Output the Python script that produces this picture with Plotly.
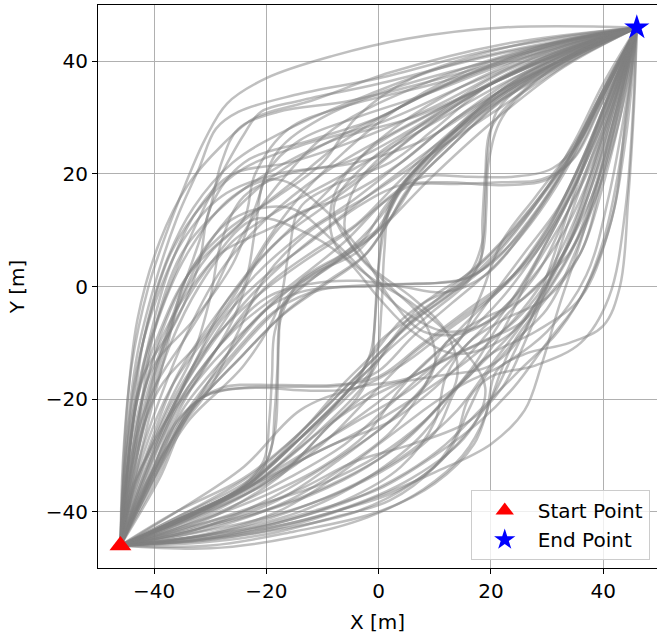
import plotly.graph_objects as go

START = (-46, -46)
END = (46, 46)
TICKS = [-40, -20, 0, 20, 40]

UPPER_PATHS = [
    [(-46,-46),(-45.5,-30),(-44,-14),(-41,0),(-38,9),(-34.5,18),(-31,26),(-27,32.5),(-20,37),(-8,41),(5,44),(22,46),(46,46)],
    [(-46,-46),(-45,-28),(-43,-12),(-40,0),(-36,12),(-32,21),(-29,28),(-25,31),(-15,34),(0,37),(20,42),(46,46)],
    [(-46,-46),(-44.5,-30),(-42,-14),(-38,-2),(-33,10),(-28,20),(-24,27),(-21,31),(-14,33),(0,36),(20,41),(46,46)],
    [(-46,-46),(-44,-32),(-41,-18),(-37,-6),(-33,5),(-30,14),(-28,22),(-25,28),(-18,31),(-5,33),(15,38),(35,44),(46,46)],
    [(-46,-46),(-44,-26),(-42,-10),(-38,4),(-33,14),(-26,22),(-16,28),(-2,34),(15,40),(46,46)],
    [(-46,-46),(-43,-30),(-40,-16),(-36,-4),(-30,8),(-22,17),(-12,24),(0,30),(15,37),(32,43),(46,46)],
    [(-46,-46),(-43,-32),(-39,-20),(-34,-8),(-28,3),(-20,12),(-10,20),(2,27),(18,35),(34,42),(46,46)],
    [(-46,-46),(-44,-34),(-41,-22),(-37,-10),(-32,0),(-26,8),(-17,14),(-6,20),(8,28),(24,37),(46,46)],
    [(-46,-46),(-42,-34),(-37,-22),(-31,-12),(-24,-3),(-16,5),(-6,13),(6,22),(20,32),(34,40),(46,46)],
    [(-46,-46),(-41,-35),(-35,-24),(-28,-15),(-20,-6),(-11,2),(-1,9),(9,19),(20,29),(33,39),(46,46)],
    [(-46,-46),(-39,-34),(-34,-23),(-24,-12),(-16,-4),(-9,1),(-2,6),(2,12),(6,18),(13,25),(23,34),(35,41),(46,46)],
    [(-46,-46),(-40,-33),(-35,-22),(-26,-11),(-18,-2),(-10,3),(-3,8),(1,14),(6,20),(14,27),(24,35),(36,42),(46,46)],
    [(-46,-46),(-40,-34),(-35,-24),(-25,-13),(-17,-5),(-10,0),(-3,5),(1.5,11),(5,17),(12,24),(22,33),(35,41),(46,46)],
    [(-46,-46),(-41,-32),(-36,-21),(-28,-10),(-20,0),(-12,6),(-4,11),(3,18),(10,25),(20,33),(33,40),(46,46)],
    [(-46,-46),(-40,-32),(-36,-22),(-30,-14),(-22,-6),(-14,1),(-6,6),(0,12),(5,19),(12,26),(22,35),(35,42),(46,46)],
    [(-46,-46),(-42,-30),(-37,-18),(-30,-8),(-22,2),(-14,9),(-5,15),(4,22),(14,30),(26,38),(46,46)],
    [(-46,-46),(-45,-30),(-42,-16),(-36,-6),(-32,4),(-30,14),(-24,22),(-12,26),(0,30),(12,36),(30,43),(46,46)],
    [(-46,-46),(-44,-28),(-40,-14),(-33,-6),(-26,4),(-22,14),(-18,24),(-10,30),(2,35),(20,40),(46,46)],
    [(-46,-46),(-42,-28),(-38,-12),(-34,2),(-27,10),(-18,16),(-10,22),(-4,30),(6,37),(25,43),(46,46)],
    [(-46,-46),(-43,-26),(-40,-8),(-35,6),(-28,14),(-20,20),(-8,26),(6,30),(20,36),(36,43),(46,46)],
    [(-46,-46),(-44,-32),(-39,-18),(-32,-10),(-26,-2),(-20,8),(-14,16),(-6,24),(4,32),(20,40),(46,46)],
    [(-46,-46),(-42,-36),(-36,-26),(-30,-18),(-25,-8),(-20,2),(-12,10),(-2,16),(10,24),(22,32),(36,41),(46,46)],
    [(-46,-46),(-45,-34),(-43,-20),(-39,-8),(-34,2),(-26,10),(-16,18),(-6,26),(8,34),(28,42),(46,46)],
    [(-46,-46),(-44,-30),(-40,-18),(-35,-10),(-30,-2),(-25,8),(-18,18),(-8,28),(8,36),(26,42),(46,46)],
    [(-46,-46),(-43,-34),(-38,-24),(-32,-16),(-26,-6),(-22,4),(-16,12),(-6,16),(4,22),(14,30),(28,38),(46,46)],
    [(-46,-46),(-44,-26),(-41,-10),(-37,4),(-32,14),(-26,20),(-16,22),(-4,26),(10,32),(26,40),(46,46)],
    [(-46,-46),(-45,-32),(-43.5,-18),(-41,-6),(-37,6),(-31,15),(-24,21),(-14,25),(0,29),(16,36),(34,43),(46,46)],
    [(-46,-46),(-44.5,-34),(-42.5,-22),(-39,-10),(-34,-1),(-28,6),(-20,10),(-10,15),(0,22),(12,31),(28,40),(46,46)],
    [(-46,-46),(-43.5,-36),(-40,-26),(-36,-16),(-31,-8),(-25,0),(-18,8),(-10,14),(-2,20),(8,28),(22,37),(46,46)],
    [(-46,-46),(-45,-24),(-43,-6),(-39,8),(-34,18),(-28,25),(-22,30),(-12,33),(2,38),(22,43),(46,46)],
    [(-46,-46),(-44,-36),(-40,-28),(-36,-20),(-32,-12),(-28,-4),(-22,4),(-16,10),(-8,18),(0,26),(12,34),(30,42),(46,46)],
    [(-46,-46),(-43,-30),(-39,-14),(-35,-2),(-30,6),(-24,12),(-22,20),(-16,28),(-6,32),(10,36),(30,42),(46,46)],
    [(-46,-46),(-45.5,-36),(-44.5,-24),(-42.5,-12),(-39.5,-2),(-35,8),(-28,16),(-18,20),(-6,22),(6,28),(22,38),(46,46)],
    [(-46,-46),(-42,-32),(-37,-20),(-33,-12),(-30,-2),(-28,8),(-24,16),(-16,20),(-4,22),(8,26),(24,36),(46,46)],
]

LOWER_PATHS = [
    [(-46,-46),(-30,-46.5),(-15,-44.5),(-2,-41),(8,-36),(15,-30),(19,-23),(21,-15),(26,-12),(34,-10),(40,-7),(43,0),(44.5,16),(45.5,32),(46,46)],
    [(-46,-46),(-30,-46),(-15,-43.5),(0,-40),(10,-35),(17,-28),(20,-20),(24,-10),(30,-2),(36,6),(40,18),(43,30),(46,46)],
    [(-46,-46),(-32,-45),(-18,-42),(-5,-38),(5,-33),(12,-28),(18,-22),(25,-15),(32,-8),(38,2),(42,14),(44,30),(46,46)],
    [(-46,-46),(-30,-44),(-16,-40),(-4,-35),(6,-29),(14,-22),(20,-14),(26,-6),(32,4),(38,16),(42,28),(46,46)],
    [(-46,-46),(-28,-44),(-12,-40),(0,-36),(10,-30),(18,-24),(24,-18),(30,-10),(36,-2),(40,8),(43,22),(46,46)],
    [(-46,-46),(-32,-43),(-20,-38),(-8,-31),(2,-24),(10,-16),(18,-8),(26,0),(32,8),(37,18),(41,30),(46,46)],
    [(-46,-46),(-34,-42),(-22,-36),(-12,-29),(-2,-22),(8,-14),(16,-6),(24,2),(31,12),(36,22),(41,34),(46,46)],
    [(-46,-46),(-33,-43),(-18,-39),(-6,-34),(4,-28),(12,-20),(17,-14),(22,-6),(28,0),(34,6),(38,16),(42,30),(46,46)],
    [(-46,-46),(-30,-45),(-14,-42),(-2,-38),(10,-33),(20,-28),(26,-22),(29,-14),(32,-4),(36,8),(40,22),(46,46)],
    [(-46,-46),(-34,-41),(-24,-36),(-14,-30),(-4,-24),(6,-18),(14,-10),(20,-2),(26,6),(32,14),(37,24),(41,34),(46,46)],
    [(-46,-46),(-35,-41),(-23,-35),(-13,-25),(-6,-17),(-1,-12),(4,-6),(10,-1.5),(17,3),(24,10),(31,19),(35,25),(39,33),(46,46)],
    [(-46,-46),(-34,-41),(-22,-35),(-12,-26),(-5,-18),(0,-13),(5,-7),(12,-2),(19,4),(26,12),(32,20),(37,28),(40,35),(46,46)],
    [(-46,-46),(-36,-40),(-24,-34),(-14,-26),(-6,-18),(0,-12),(6,-6),(12,-1),(20,6),(28,15),(34,23),(39,32),(46,46)],
    [(-46,-46),(-34,-40),(-22,-33),(-12,-24),(-4,-16),(2,-10),(9,-4),(16,1),(24,8),(30,16),(35,24),(40,34),(46,46)],
    [(-46,-46),(-33,-41),(-20,-35),(-10,-28),(-2,-20),(6,-12),(14,-6),(22,0),(29,8),(34,17),(38,26),(42,36),(46,46)],
    [(-46,-46),(-35,-42),(-24,-37),(-14,-31),(-4,-26),(6,-20),(16,-13),(24,-6),(30,2),(35,12),(39,24),(43,36),(46,46)],
    [(-46,-46),(-31,-44),(-18,-40),(-8,-34),(0,-28),(8,-22),(16,-16),(22,-8),(27,2),(33,12),(38,22),(42,34),(46,46)],
    [(-46,-46),(-32,-45),(-20,-43),(-8,-40),(4,-36),(12,-30),(16,-22),(19,-16),(24,-10),(30,-4),(35,6),(40,20),(46,46)],
    [(-46,-46),(-30,-43),(-16,-38),(-6,-32),(2,-26),(8,-18),(12,-10),(18,-6),(26,-2),(33,6),(38,18),(42,32),(46,46)],
    [(-46,-46),(-34,-44),(-20,-41),(-8,-37),(2,-32),(10,-26),(14,-18),(20,-12),(28,-8),(36,-2),(41,10),(44,26),(46,46)],
    [(-46,-46),(-36,-43),(-26,-39),(-16,-34),(-6,-28),(2,-21),(10,-14),(18,-10),(26,-6),(32,2),(37,12),(41,26),(46,46)],
    [(-46,-46),(-33,-42),(-20,-37),(-10,-32),(-2,-26),(4,-18),(10,-12),(16,-8),(22,-2),(28,6),(34,16),(40,30),(46,46)],
    [(-46,-46),(-32,-45.5),(-20,-44),(-8,-41),(2,-38),(10,-32),(14,-26),(16,-20),(20,-16),(28,-14),(36,-10),(41,-2),(44,14),(46,46)],
    [(-46,-46),(-34,-43),(-22,-39),(-10,-35),(0,-30),(8,-24),(14,-18),(22,-14),(30,-8),(37,2),(41,16),(44,32),(46,46)],
    [(-46,-46),(-36,-44),(-24,-41),(-12,-37),(-2,-32),(6,-26),(12,-20),(18,-14),(24,-8),(30,0),(35,10),(40,24),(46,46)],
    [(-46,-46),(-37,-42),(-28,-38),(-18,-33),(-8,-28),(2,-24),(10,-18),(18,-10),(24,-2),(30,8),(36,20),(41,32),(46,46)],
    [(-46,-46),(-33,-44.5),(-18,-42),(-6,-38),(4,-32),(10,-24),(12,-16),(16,-10),(22,-6),(30,-2),(36,6),(40,20),(46,46)],
    [(-46,-46),(-35,-43),(-24,-40),(-14,-36),(-4,-31),(6,-28),(16,-24),(22,-18),(26,-10),(30,0),(34,12),(39,26),(46,46)],
    [(-46,-46),(-31,-45),(-17,-43),(-4,-40),(6,-35),(14,-28),(20,-20),(24,-12),(28,-4),(33,4),(38,14),(43,30),(46,46)],
    [(-46,-46),(-36,-42),(-25,-37),(-15,-31),(-8,-24),(-2,-20),(6,-16),(14,-12),(22,-8),(28,-2),(34,8),(39,22),(46,46)],
]

MIDDLE_PATHS = [
    [(-46,-46),(-40,-33),(-35,-23),(-30,-19),(-22,-18),(-12,-18.5),(-4,-18),(4,-14),(12,-8),(20,-2),(28,6),(34,16),(39,28),(46,46)],
    [(-46,-46),(-39,-32),(-34,-22),(-28,-18),(-18,-17.5),(-8,-17.5),(0,-16),(8,-10),(16,-4),(24,2),(30,10),(36,22),(41,34),(46,46)],
    [(-46,-46),(-39,-28),(-34,-16),(-28,-6),(-20,2),(-12,8),(-4,14),(4,18),(12,18.5),(22,18),(30,19),(35,23),(40,33),(46,46)],
    [(-46,-46),(-40,-30),(-34,-18),(-26,-8),(-16,0),(-6,8),(2,16),(8,19.5),(16,19.5),(24,19.5),(31,21),(36,26),(40,34),(46,46)],
    [(-46,-46),(-35,-41),(-25,-36),(-20.5,-31),(-19.5,-24),(-19,-16),(-18.5,-8),(-16,-2),(-8,4),(0,10),(4,17),(12,25),(22,34),(34,41),(46,46)],
    [(-46,-46),(-34,-41),(-24,-35.5),(-19.5,-30),(-18.5,-22),(-18,-14),(-17.5,-6),(-14,1),(-6,6),(2,12),(8,21),(18,31),(32,40),(46,46)],
    [(-46,-46),(-34,-41),(-22,-34),(-12,-25),(-4,-17),(0,-10),(8,-4),(16,2),(18.5,8),(19,16),(19.5,24),(21,31),(26,36),(36,42),(46,46)],
    [(-46,-46),(-35,-41),(-23,-35),(-13,-26),(-5,-18),(1,-12),(9,-5),(16,1),(18.5,6),(19.2,14),(19.6,22),(22,30),(30,38),(46,46)],
    [(-46,-46),(-35,-41),(-23,-35),(-13,-26),(-5,-18),(-1.5,-12),(-0.5,-4),(0,4),(1,12),(4,18),(12,26),(22,35),(35,42),(46,46)],
    [(-46,-46),(-34,-41),(-22,-35),(-12,-27),(-4,-20),(-0.5,-13),(0.5,-4),(1,6),(2,14),(6,20),(14,28),(26,37),(46,46)],
    [(-46,-46),(-39,-33),(-34,-22),(-26,-12),(-18,-4),(-10,-0.5),(-2,0),(6,0.5),(14,1),(20,4),(27,12),(33,21),(38,31),(46,46)],
    [(-46,-46),(-40,-32),(-35,-21),(-28,-10),(-20,-2),(-12,0.5),(-4,1),(4,0),(12,-1),(19,2),(26,10),(32,19),(37,29),(46,46)],
    [(-46,-46),(-44,-30),(-40,-12),(-34,2),(-26,12),(-16,14),(-8,8),(-2,2),(4,-4),(12,-8),(20,-6),(28,2),(34,14),(40,28),(46,46)],
    [(-46,-46),(-43,-28),(-38,-10),(-30,4),(-22,12),(-14,10),(-6,5),(0,-2),(6,-8),(14,-12),(24,-8),(32,4),(38,20),(46,46)],
    [(-46,-46),(-30,-44),(-14,-40),(-2,-34),(8,-26),(14,-16),(12,-8),(6,-2),(-2,4),(-6,10),(-4,18),(4,26),(16,34),(30,41),(46,46)],
    [(-46,-46),(-32,-43),(-18,-38),(-6,-30),(4,-22),(10,-14),(8,-6),(2,0),(-4,6),(-8,14),(-2,22),(10,30),(28,40),(46,46)],
    [(-46,-46),(-41,-34),(-36,-24),(-31,-19.5),(-24,-18),(-14,-17.8),(-6,-17.5),(0,-15),(6,-9),(13,-3),(20,3),(27,11),(33,20),(38,30),(46,46)],
    [(-46,-46),(-41,-30),(-36,-19),(-30,-10),(-22,-2),(-14,4),(-5,10),(1,15),(6,18),(14,18.2),(22,18.5),(29,19),(34,22),(39,31),(46,46)],
    [(-46,-46),(-36,-41.5),(-26,-37),(-21,-33),(-18.5,-26),(-18,-18),(-17.8,-10),(-17,-3),(-12,2),(-4,6),(1,12),(5,19),(14,28),(26,37),(46,46)],
    [(-46,-46),(-33,-41),(-21,-34),(-11,-26),(-3,-18),(2,-10),(8,-3),(14,0),(18,4),(18.5,12),(19,20),(20,28),(26,35),(37,42),(46,46)],
    [(-46,-46),(-36,-41),(-24,-35),(-14,-27),(-6,-20),(-1.5,-15),(-0.8,-8),(-0.3,0),(0.6,8),(2,14),(8,22),(18,32),(32,41),(46,46)],
    [(-46,-46),(-40,-33),(-34,-23),(-27,-12),(-20,-4),(-14,-1),(-6,0),(2,0.4),(10,0.6),(17,2),(23,8),(29,16),(35,26),(40,36),(46,46)],
    [(-46,-46),(-36,-40),(-24,-32),(-14,-22),(-4,-18),(6,-16),(14,-10),(18,-2),(22,8),(28,16),(34,24),(40,34),(46,46)],
    [(-46,-46),(-32,-42),(-18,-34),(-8,-24),(0,-18),(10,-16),(20,-14),(26,-8),(30,2),(34,14),(38,26),(42,36),(46,46)],
    [(-46,-46),(-40,-34),(-34,-24),(-24,-14),(-18,-4),(-16,6),(-14,14),(-8,18),(2,22),(10,28),(20,36),(34,42),(46,46)],
    [(-46,-46),(-42,-34),(-36,-20),(-30,-10),(-24,0),(-22,10),(-20,20),(-14,26),(-4,30),(8,34),(24,40),(46,46)],
    [(-46,-46),(-44,-26),(-40,-8),(-34,6),(-26,16),(-18,19),(-10,14),(-3,6),(2,-2),(8,-8),(16,-8),(24,-2),(30,8),(36,20),(41,32),(46,46)],
    [(-46,-46),(-26,-44),(-8,-40),(6,-34),(16,-26),(19,-18),(14,-10),(6,-3),(-2,2),(-8,8),(-8,16),(-2,24),(8,30),(20,36),(32,41),(46,46)],
]

fig = go.Figure()

for family in (UPPER_PATHS, LOWER_PATHS, MIDDLE_PATHS):
    for path in family:
        fig.add_trace(go.Scatter(
            x=[p[0] for p in path], y=[p[1] for p in path],
            mode="lines",
            line=dict(color="rgba(128,128,128,0.5)", width=2.5, shape="spline", smoothing=1.0),
            showlegend=False, hoverinfo="skip",
        ))

fig.add_trace(go.Scatter(
    x=[START[0]], y=[START[1]], mode="markers", name="Start Point",
    marker=dict(symbol="triangle-up", size=19, color="red"),
))
fig.add_trace(go.Scatter(
    x=[END[0]], y=[END[1]], mode="markers", name="End Point",
    marker=dict(symbol="star", size=19, color="blue"),
))

axis_common = dict(
    tickvals=TICKS,
    showgrid=True, gridcolor="#b0b0b0", gridwidth=1,
    zeroline=False,
    showline=True, linecolor="black", linewidth=1, mirror=True,
    ticks="outside", ticklen=5, tickcolor="black",
    tickfont=dict(family="DejaVu Sans", size=20, color="black"),
)

fig.update_layout(
    width=657, height=640,
    margin=dict(l=98, r=0, t=5, b=72),
    plot_bgcolor="white", paper_bgcolor="white",
    font=dict(family="DejaVu Sans", size=20, color="black"),
    xaxis=dict(range=[-50, 49.6], title=dict(text="X [m]", standoff=12,
               font=dict(family="DejaVu Sans", size=20, color="black")), **axis_common),
    yaxis=dict(range=[-50, 50], title=dict(text="Y [m]", standoff=15,
               font=dict(family="DejaVu Sans", size=20, color="black")), **axis_common),
    legend=dict(
        x=0.987, y=0.014, xanchor="right", yanchor="bottom",
        bgcolor="rgba(255,255,255,0.8)", bordercolor="#cccccc", borderwidth=1,
        font=dict(family="DejaVu Sans", size=20, color="black"),
        itemwidth=56,
    ),
)

fig.write_html("out.html")
